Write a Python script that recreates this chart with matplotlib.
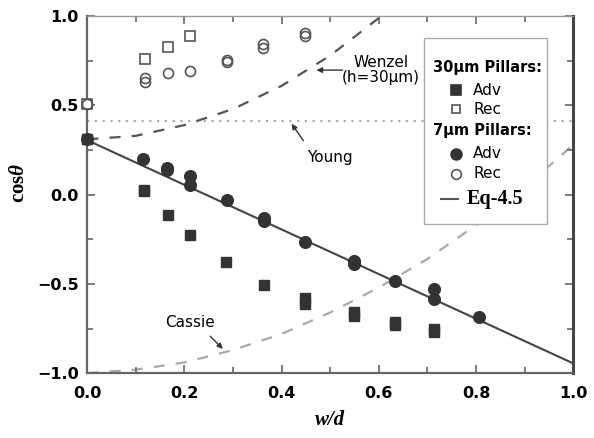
import matplotlib
matplotlib.use('Agg')
import matplotlib.pyplot as plt
from matplotlib.patches import Rectangle
from matplotlib.lines import Line2D

plt.rcParams['mathtext.fontset'] = 'custom'
plt.rcParams['mathtext.rm'] = 'Liberation Serif:bold'
plt.rcParams['mathtext.it'] = 'Liberation Serif:italic:bold'

# 30um pillars
adv30_x = [0.0, 0.117, 0.117, 0.167, 0.211, 0.286, 0.364, 0.447, 0.447, 0.548, 0.548, 0.634, 0.634, 0.714, 0.714]
adv30_y = [0.31, 0.028, 0.018, -0.112, -0.227, -0.376, -0.508, -0.577, -0.615, -0.66, -0.68, -0.715, -0.73, -0.75, -0.77]
rec30_x = [0.0, 0.119, 0.167, 0.211]
rec30_y = [0.51, 0.758, 0.825, 0.888]

# 7um pillars
adv7_x = [0.0, 0.115, 0.165, 0.165, 0.211, 0.211, 0.287, 0.364, 0.364, 0.448, 0.548, 0.548, 0.634, 0.714, 0.714, 0.807]
adv7_y = [0.31, 0.2, 0.149, 0.14, 0.106, 0.056, -0.028, -0.13, -0.15, -0.266, -0.373, -0.391, -0.484, -0.531, -0.583, -0.683]
rec7_x = [0.0, 0.119, 0.119, 0.167, 0.211, 0.287, 0.287, 0.362, 0.362, 0.448, 0.448]
rec7_y = [0.51, 0.652, 0.633, 0.683, 0.694, 0.754, 0.741, 0.847, 0.82, 0.907, 0.888]

# model curves
eq_x = [0.0, 1.0]
eq_y = [0.305, -0.945]
wenzel_x = [0.0, 0.1, 0.2, 0.3, 0.4, 0.5, 0.6, 0.65]
wenzel_y = [0.31, 0.33, 0.39, 0.48, 0.61, 0.78, 0.99, 1.11]
cassie_x = [0.0, 0.1, 0.2, 0.3, 0.4, 0.5, 0.6, 0.7, 0.8, 0.9, 1.0]
cassie_y = [-1.0, -0.98, -0.94, -0.87, -0.78, -0.66, -0.52, -0.36, -0.17, 0.04, 0.28]
young_y = 0.415

dark = '#333333'

fig = plt.figure(figsize=(5.94, 4.38), dpi=100)
ax = fig.add_axes([0.147, 0.148, 0.818, 0.815])

ax.axhline(young_y, color='#aaaaaa', linestyle=(0, (1, 2.5)), lw=1.6, zorder=1)
ax.plot(wenzel_x, wenzel_y, color='#555555', linestyle=(0, (5, 5)), lw=1.6, zorder=1)
ax.plot(cassie_x, cassie_y, color='#aaaaaa', linestyle=(0, (5, 5)), lw=1.6, zorder=1)
ax.plot(eq_x, eq_y, color='#444444', lw=1.5, zorder=2)

ax.plot(adv30_x, adv30_y, 's', color=dark, ms=7.2, mec=dark, clip_on=False, zorder=3)
ax.plot(rec30_x, rec30_y, 's', mfc='white', mec='#555555', mew=1.2, ms=6.5, clip_on=False, zorder=3)
ax.plot(adv7_x, adv7_y, 'o', color=dark, ms=8.4, mec=dark, clip_on=False, zorder=3)
ax.plot(rec7_x, rec7_y, 'o', mfc='none', mec='#555555', mew=1.2, ms=7.2, clip_on=False, zorder=3)

ax.set_xlim(0, 1.0)
ax.set_ylim(-1.0, 1.0)
ax.set_xticks([0, 0.2, 0.4, 0.6, 0.8, 1.0])
ax.set_xticks([0.1, 0.3, 0.5, 0.7, 0.9], minor=True)
ax.set_yticks([-1.0, -0.5, 0.0, 0.5, 1.0])
ax.set_yticks([-0.75, -0.25, 0.25, 0.75], minor=True)
ax.set_xticklabels(['0.0', '0.2', '0.4', '0.6', '0.8', '1.0'])
ax.set_yticklabels(['\u22121.0', '\u22120.5', '0.0', '0.5', '1.0'])
ax.tick_params(which='both', direction='in', top=True, right=True, color='#666666', width=1.2)
ax.tick_params(which='major', length=6)
ax.tick_params(which='minor', length=4)
ax.tick_params(axis='x', pad=9)
ax.tick_params(axis='y', pad=6)
for lab in ax.get_xticklabels() + ax.get_yticklabels():
    lab.set_fontweight('bold')
    lab.set_fontsize(11.5)

for side in ['left', 'bottom']:
    ax.spines[side].set_color('#666666')
    ax.spines[side].set_linewidth(1.6)
ax.spines['top'].set_color('#999999')
ax.spines['top'].set_linewidth(1.0)
ax.spines['right'].set_color('#444444')
ax.spines['right'].set_linewidth(2.2)

ax.set_ylabel(r'$\mathrm{cos}\theta$', fontsize=15)
ax.yaxis.set_label_coords(-0.122, 0.532)
ax.set_xlabel('w/d', fontsize=15, fontfamily='Liberation Serif', fontstyle='italic', fontweight='bold', va='top')
ax.xaxis.set_label_coords(0.5, -0.104)

# annotations
ax.text(0.604, 0.698, 'Wenzel\n(h=30\u03bcm)', ha='center', va='center', fontsize=11, linespacing=1.05)
ax.annotate('', xy=(0.466, 0.698), xytext=(0.531, 0.698),
            arrowprops=dict(arrowstyle='-|>', color='#333333', lw=1, mutation_scale=8))
ax.text(0.5, 0.207, 'Young', ha='center', va='center', fontsize=11)
ax.annotate('', xy=(0.417, 0.41), xytext=(0.448, 0.29),
            arrowprops=dict(arrowstyle='-|>', color='#333333', lw=1, mutation_scale=8))
ax.text(0.211, -0.717, 'Cassie', ha='center', va='center', fontsize=11)
ax.annotate('', xy=(0.283, -0.875), xytext=(0.249, -0.782),
            arrowprops=dict(arrowstyle='-|>', color='#333333', lw=1, mutation_scale=8))

# legend box
tr = ax.transAxes
ax.add_patch(Rectangle((0.693, 0.419), 0.253, 0.521, transform=tr, facecolor='white',
                       edgecolor='#aaaaaa', lw=1, zorder=5))
ax.text(0.711, 0.857, '30\u03bcm Pillars:', transform=tr, fontsize=10.5, fontweight='bold', va='center', zorder=6)
ax.text(0.711, 0.68, '7\u03bcm Pillars:', transform=tr, fontsize=10.5, fontweight='bold', va='center', zorder=6)
leg_items = [
    (0.793, 's', dark, dark, 6.5, 'Adv'),
    (0.74, 's', 'white', '#555555', 5.8, 'Rec'),
    (0.615, 'o', dark, dark, 7.8, 'Adv'),
    (0.559, 'o', 'white', '#555555', 7.0, 'Rec'),
]
for yy, mk, fc, ec, sz, lab in leg_items:
    ax.add_line(Line2D([0.758], [yy], marker=mk, mfc=fc, mec=ec, ms=sz, mew=1.2,
                       linestyle='none', transform=tr, zorder=6))
    ax.text(0.794, yy, lab, transform=tr, fontsize=11, va='center', zorder=6)
ax.add_line(Line2D([0.727, 0.762], [0.489, 0.489], color='#555555', lw=1.5, transform=tr, zorder=6))
ax.text(0.781, 0.489, 'Eq-4.5', transform=tr, fontsize=14.5, fontfamily='Liberation Serif',
        fontweight='bold', va='center', zorder=6)

fig.savefig('out.png', dpi=100)
